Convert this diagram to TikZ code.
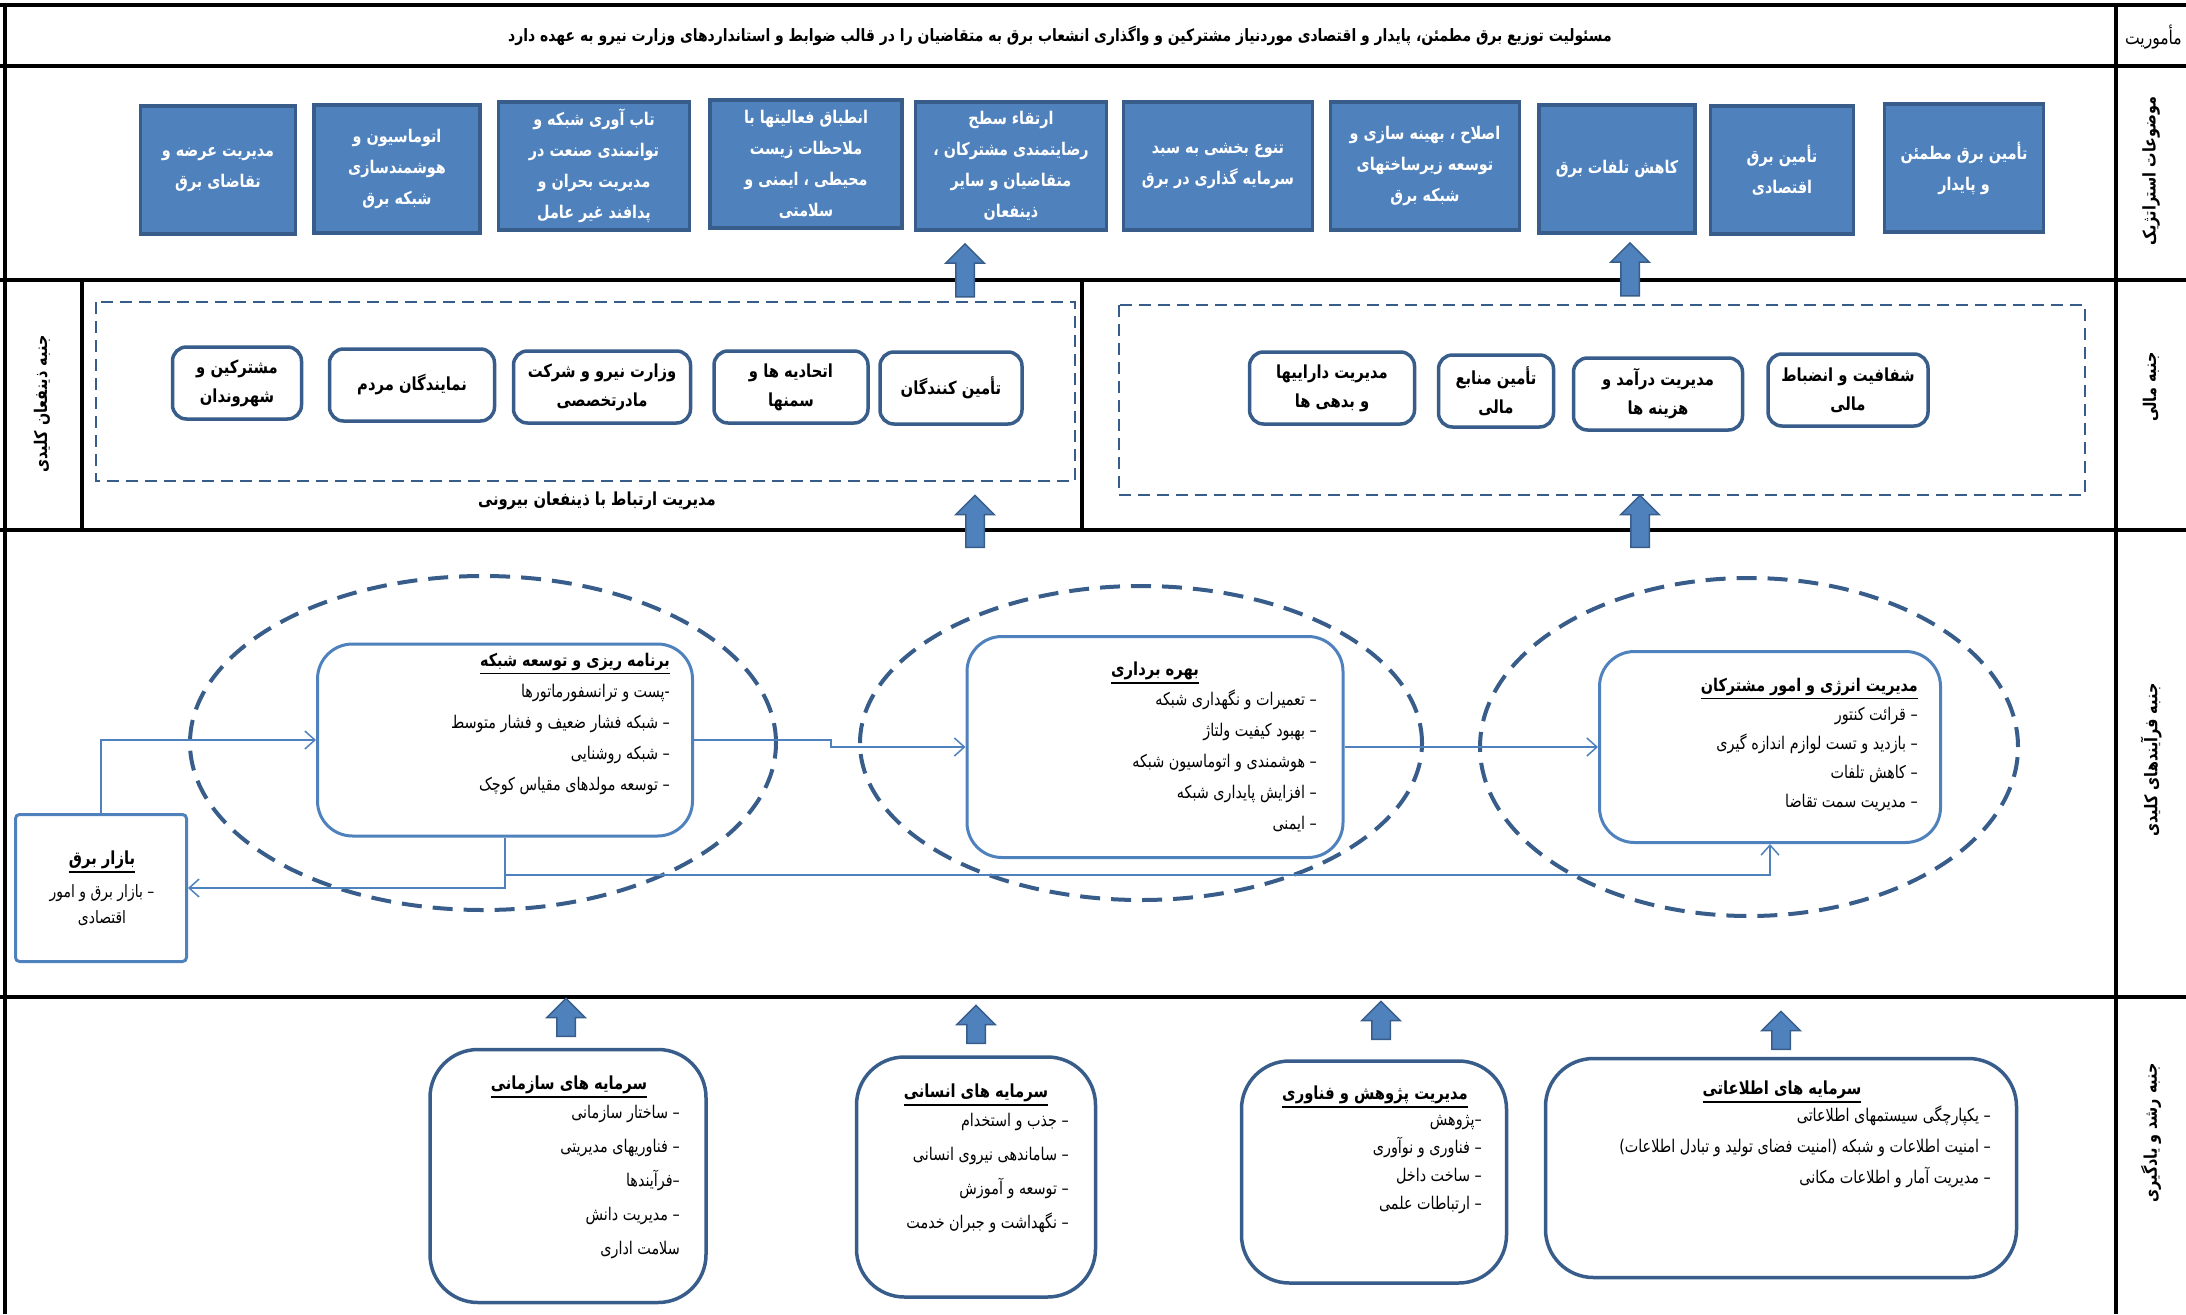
\documentclass[tikz,border=0pt]{standalone}
\usepackage{fontspec}
\newfontfamily\fafont[Script=Arabic,FakeStretch=0.82]{DejaVu Sans}
\TeXXeTstate=1
\newcommand\fa[1]{\beginR #1\endR}
\newcommand\utitle[1]{\vtop{\hbox{\fa{#1}}\kern2pt\hrule height 1.5pt}}
\usetikzlibrary{positioning,shapes.geometric,shapes.arrows,arrows.meta}
\definecolor{boxblue}{HTML}{4F81BD}
\definecolor{darkblue}{HTML}{385D8A}

\begin{document}
\begin{tikzpicture}[x=1pt, y=-1pt,
  frame/.style={line width=3.5pt},
  goal/.style={draw=darkblue, fill=boxblue, line width=3.5pt, text=white, align=center, inner sep=0pt, font=\fafont\bfseries\fontsize{17.5}{31}\selectfont},
  party/.style={draw=darkblue, fill=white, line width=3.5pt, rounded corners=14pt, align=center, inner sep=0pt, minimum height=72pt, font=\fafont\bfseries\fontsize{18}{29}\selectfont},
  group/.style={draw=darkblue, dash pattern=on 12pt off 7pt, line width=2.5pt},
  process/.style={draw=boxblue, fill=white, line width=3pt, rounded corners=35pt},
  growth/.style={draw=darkblue, fill=white, line width=3.5pt, rounded corners=48pt},
  field/.style={ellipse, draw=darkblue, line width=4pt, dash pattern=on 20pt off 11pt},
  items/.style={align=right, inner sep=0pt, font=\fafont\fontsize{17.5}{31}\selectfont},
  head/.style={inner sep=0pt, font=\fafont\bfseries\fontsize{18}{22}\selectfont},
  side/.style={rotate=90, inner sep=0pt, font=\fafont\bfseries\fontsize{17.5}{22}\selectfont},
  uparrow/.style={single arrow, rotate=90, draw=darkblue, fill=boxblue, line width=1.5pt, inner xsep=0pt, inner ysep=8.5pt, single arrow head extend=10pt},
  conn/.style={draw=boxblue, line width=1.5pt, -{Straight Barb[length=10pt,width=18pt]}}]
\useasboundingbox (0,0) rectangle (2186,1314);

% frame
\draw[frame] (0,5) -- (2186,5) (0,66) -- (2186,66) (0,280) -- (2186,280)
  (0,530) -- (2186,530) (0,997) -- (2186,997);
\draw[frame] (5,5) -- (5,1314) (2116,5) -- (2116,1314)
  (82,280) -- (82,530) (1082,280) -- (1082,530);

\node[head, font=\fafont\bfseries\fontsize{17}{22}\selectfont] (mission) at (1060,36) {\fa{مسئولیت توزیع برق مطمئن، پایدار و اقتصادی موردنیاز مشترکین و واگذاری انشعاب برق به متقاضیان را در قالب ضوابط و استانداردهای وزارت نیرو به عهده دارد}};
\node[head, anchor=east, font=\fafont\fontsize{19}{22}\selectfont] (lbl0) at (2182,37) {\fa{مأموریت}};
\node[side] (lbl1) at (2151,171) {\fa{موضوعات استراتژیک}};
\node[side] (lbl2) at (2151,387) {\fa{جنبه مالی}};
\node[side] (lbl3) at (2151,760) {\fa{جنبه فرآیندهای کلیدی}};
\node[side] (lbl4) at (2151,1133) {\fa{جنبه رشد و یادگیری}};
\node[side] (lbl5) at (42,404) {\fa{جنبه ذینفعان کلیدی}};

% strategic topics
\node[goal, minimum width=155pt, minimum height=128pt] (g1) at (218,170) {\fa{مدیریت عرضه و}\\\fa{تقاضای برق}};
\node[goal, minimum width=166pt, minimum height=128pt] (g2) at (397,169) {\fa{اتوماسیون و}\\\fa{هوشمندسازی}\\\fa{شبکه برق}};
\node[goal, minimum width=191pt, minimum height=128pt] (g3) at (594,166) {\fa{تاب آوری شبکه و}\\\fa{توانمندی صنعت در}\\\fa{مدیریت بحران و}\\\fa{پدافند غیر عامل}};
\node[goal, minimum width=192pt, minimum height=128pt] (g4) at (806,164) {\fa{انطباق فعالیتها با}\\\fa{ملاحظات زیست}\\\fa{محیطی ، ایمنی و}\\\fa{سلامتی}};
\node[goal, minimum width=191pt, minimum height=128pt] (g5) at (1011,166) {\fa{ارتقاء سطح}\\\fa{رضایتمندی مشترکان ،}\\\fa{متقاضیان و سایر}\\\fa{ذینفعان}};
\node[goal, minimum width=189pt, minimum height=128pt] (g6) at (1218,166) {\fa{تنوع بخشی به سبد}\\\fa{سرمایه گذاری در برق}};
\node[goal, minimum width=189pt, minimum height=128pt] (g7) at (1425,166) {\fa{اصلاح ، بهینه سازی و}\\\fa{توسعه زیرساختهای}\\\fa{شبکه برق}};
\node[goal, minimum width=156pt, minimum height=128pt] (g8) at (1617,169) {\fa{کاهش تلفات برق}};
\node[goal, minimum width=143pt, minimum height=128pt] (g9) at (1782,170) {\fa{تأمین برق}\\\fa{اقتصادی}};
\node[goal, minimum width=159pt, minimum height=128pt] (g10) at (1964,168) {\fa{تأمین برق مطمئن}\\\fa{و پایدار}};

% stakeholders and finance
\draw[group] (96,302) rectangle (1075,481);
\draw[group] (1119,305) rectangle (2085,495);
\node[head] (outer) at (597,501) {\fa{مدیریت ارتباط با ذینفعان بیرونی}};
\node[party, minimum width=129pt] (st1) at (237,383) {\fa{مشترکین و}\\\fa{شهروندان}};
\node[party, minimum width=165pt] (st2) at (412,385) {\fa{نمایندگان مردم}};
\node[party, minimum width=177pt] (st3) at (602,387) {\fa{وزارت نیرو و شرکت}\\\fa{مادرتخصصی}};
\node[party, minimum width=154pt] (st4) at (791,387) {\fa{اتحادیه ها و}\\\fa{سمنها}};
\node[party, minimum width=142pt] (st5) at (951,388) {\fa{تأمین کنندگان}};
\node[party, minimum width=165pt] (f1) at (1332,388) {\fa{مدیریت داراییها}\\\fa{و بدهی ها}};
\node[party, minimum width=115pt] (f2) at (1496,391) {\fa{تأمین منابع}\\\fa{مالی}};
\node[party, minimum width=169pt] (f3) at (1658,394) {\fa{مدیریت درآمد و}\\\fa{هزینه ها}};
\node[party, minimum width=160pt] (f4) at (1848,390) {\fa{شفافیت و انضباط}\\\fa{مالی}};

% key processes
\node[field, minimum width=586pt, minimum height=334pt] (e1) at (483,743) {};
\node[field, minimum width=562pt, minimum height=314pt] (e2) at (1141,743) {};
\node[field, minimum width=538pt, minimum height=338pt] (e3) at (1749,747) {};
\node[process, minimum width=375pt, minimum height=192pt] (p1) at (505,740) {};
\node[process, minimum width=376pt, minimum height=221pt] (p2) at (1155,747) {};
\node[process, minimum width=341pt, minimum height=191pt] (p3) at (1770,747) {};
\node[draw=boxblue, fill=white, line width=3pt, rounded corners=4pt, minimum width=171pt, minimum height=147pt] (bazar) at (101,888) {};

\node[items, anchor=north east] (p1txt) at (670,653) {\utitle{\bfseries برنامه ریزی و توسعه شبکه}\\\fa{-پست و ترانسفورماتورها}\\\fa{– شبکه فشار ضعیف و فشار متوسط}\\\fa{– شبکه روشنایی}\\\fa{– توسعه مولدهای مقیاس کوچک}};
\node[head] (p2head) at (1155,673) {\utitle{بهره برداری}};
\node[items, anchor=north east] (p2txt) at (1317,690) {\fa{– تعمیرات و نگهداری شبکه}\\\fa{– بهبود کیفیت ولتاژ}\\\fa{– هوشمندی و اتوماسیون شبکه}\\\fa{– افزایش پایداری شبکه}\\\fa{– ایمنی}};
\node[items, anchor=north east, font=\fafont\fontsize{17.5}{29}\selectfont] (p3txt) at (1918,678) {\utitle{\bfseries مدیریت انرژی و امور مشترکان}\\\fa{– قرائت کنتور}\\\fa{– بازدید و تست لوازم اندازه گیری}\\\fa{– کاهش تلفات}\\\fa{– مدیریت سمت تقاضا}};
\node[head] (bhead) at (102,862) {\utitle{بازار برق}};
\node[items, align=center, font=\fafont\fontsize{17}{26}\selectfont] (btxt) at (102,905) {\fa{– بازار برق و امور}\\\fa{اقتصادی}};

\draw[conn] (bazar.north) |- (p1.west);
\draw[conn] (p1.south) |- (bazar.east);
\coordinate (split) at (505,875);
\draw[conn] (p1.south) -- (split) -| (p3.south);
\draw[conn] (p1.east) -- ++(137,0) |- (p2.west);
\draw[conn] (p2.east) -- (p3.west);

% learning and growth
\node[growth, minimum width=276pt, minimum height=253pt] (r1) at (568,1176) {};
\node[growth, minimum width=239pt, minimum height=240pt] (r2) at (976,1177) {};
\node[growth, minimum width=265pt, minimum height=222pt] (r3) at (1374,1172) {};
\node[growth, minimum width=471pt, minimum height=219pt] (r4) at (1781,1168) {};
\node[head] (r1head) at (569,1087) {\utitle{سرمایه های سازمانی}};
\node[items, anchor=north east, font=\fafont\fontsize{17.5}{34}\selectfont] (r1txt) at (680,1105) {\fa{– ساختار سازمانی}\\\fa{– فناوریهای مدیریتی}\\\fa{–فرآیندها}\\\fa{– مدیریت دانش}\\\fa{سلامت اداری}};
\node[head] (r2head) at (976,1095) {\utitle{سرمایه های انسانی}};
\node[items, anchor=north east, font=\fafont\fontsize{17.5}{34}\selectfont] (r2txt) at (1069,1113) {\fa{– جذب و استخدام}\\\fa{– ساماندهی نیروی انسانی}\\\fa{– توسعه و آموزش}\\\fa{– نگهداشت و جبران خدمت}};
\node[head] (r3head) at (1375,1097) {\utitle{مدیریت پژوهش و فناوری}};
\node[items, anchor=north east, font=\fafont\fontsize{17.5}{28}\selectfont] (r3txt) at (1482,1115) {\fa{–پژوهش}\\\fa{– فناوری و نوآوری}\\\fa{– ساخت داخل}\\\fa{– ارتباطات علمی}};
\node[head] (r4head) at (1782,1092) {\utitle{سرمایه های اطلاعاتی}};
\node[items, anchor=north east] (r4txt) at (1991,1106) {\fa{– یکپارچگی سیستمهای اطلاعاتی}\\\fa{– امنیت اطلاعات و شبکه (امنیت فضای تولید و تبادل اطلاعات)}\\\fa{– مدیریت آمار و اطلاعات مکانی}};

% block arrows
\node[uparrow, minimum height=53pt] (a1) at (965,275) {};
\node[uparrow, minimum height=53pt] (a2) at (1630,274) {};
\node[uparrow, minimum height=52pt] (a3) at (975,526) {};
\node[uparrow, minimum height=52pt] (a4) at (1640,526) {};
\node[uparrow, minimum height=38pt] (a5) at (566,1022) {};
\node[uparrow, minimum height=38pt] (a6) at (976,1029) {};
\node[uparrow, minimum height=38pt] (a7) at (1381,1025) {};
\node[uparrow, minimum height=38pt] (a8) at (1781,1035) {};
\end{tikzpicture}
\end{document}
